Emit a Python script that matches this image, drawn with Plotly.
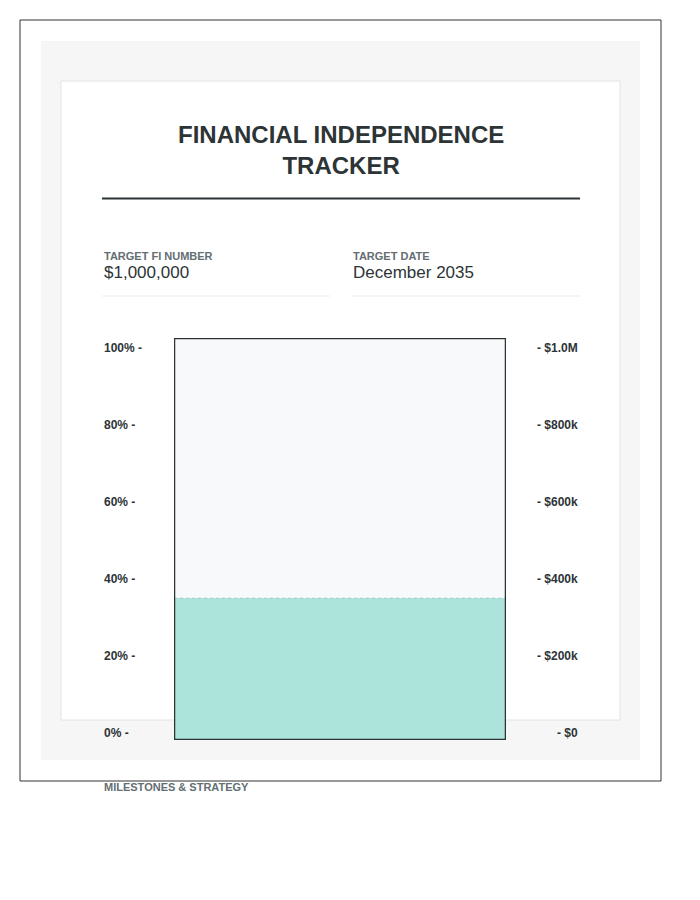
import plotly.graph_objects as go

pct_ticks = [0, 20, 40, 60, 80, 100]
pct_labels = ["0% -", "20% -", "40% -", "60% -", "80% -", "100% -"]
usd_labels = ["- $0", "- $200k", "- $400k", "- $600k", "- $800k", "- $1.0M"]
progress = [35]
target_number = "$1,000,000"
target_date = "December 2035"

W, H = 700, 900
OFF = 8
def px(x): return (x - OFF) / W
def py(y): return 1 - (y - OFF) / H

fig = go.Figure()
fig.add_trace(go.Bar(x=[0], y=[progress[0] + 1.82], base=-1.82, width=1,
                     marker=dict(color="#ace3da", line=dict(width=0)),
                     hoverinfo="skip", showlegend=False))

shapes = [
    dict(type="rect", xref="paper", yref="paper", x0=px(20), x1=px(661), y0=py(781), y1=py(20),
         line=dict(color="#333", width=1), fillcolor="white", layer="below"),
    dict(type="rect", xref="paper", yref="paper", x0=px(41), x1=px(640), y0=py(760), y1=py(41),
         line=dict(width=0), fillcolor="#f6f6f6", layer="below"),
    dict(type="rect", xref="paper", yref="paper", x0=px(61), x1=px(620), y0=py(720), y1=py(81),
         line=dict(color="#e4e4e4", width=1), fillcolor="white", layer="below"),
    dict(type="line", xref="paper", yref="paper", x0=px(102), x1=px(580), y0=py(198.5), y1=py(198.5),
         line=dict(color="#2d3436", width=2)),
    dict(type="line", xref="paper", yref="paper", x0=px(102), x1=px(330), y0=py(296), y1=py(296),
         line=dict(color="#ececec", width=1)),
    dict(type="line", xref="paper", yref="paper", x0=px(351), x1=px(580), y0=py(296), y1=py(296),
         line=dict(color="#ececec", width=1)),
    dict(type="rect", xref="x", yref="y", x0=-0.5, x1=0.5, y0=progress[0], y1=102.6,
         line=dict(width=0), fillcolor="#f8f9fa", layer="below"),
    dict(type="line", xref="x", yref="y", x0=-0.5, x1=0.5, y0=progress[0], y1=progress[0],
         line=dict(color="#9fcfc7", width=1, dash="dot")),
    dict(type="rect", xref="x", yref="y", x0=-0.5, x1=0.5, y0=-1.82, y1=102.6,
         line=dict(color="#2d3436", width=2.5), fillcolor="rgba(0,0,0,0)", layer="above"),
]

F = "Liberation Sans"
ann = [
    dict(text="<b>FINANCIAL INDEPENDENCE<br>TRACKER</b>", x=px(341), y=py(150), xref="paper", yref="paper",
         showarrow=False, font=dict(size=24, color="#2d3436", family=F), xanchor="center", yanchor="middle"),
    dict(text="<b>TARGET FI NUMBER</b>", x=px(102), y=py(256), xref="paper", yref="paper", showarrow=False,
         xanchor="left", yanchor="middle", font=dict(size=11, color="#636e72", family=F)),
    dict(text=target_number, x=px(102), y=py(272), xref="paper", yref="paper", showarrow=False,
         xanchor="left", yanchor="middle", font=dict(size=17, color="#2d3436", family=F)),
    dict(text="<b>TARGET DATE</b>", x=px(351), y=py(256), xref="paper", yref="paper", showarrow=False,
         xanchor="left", yanchor="middle", font=dict(size=11, color="#636e72", family=F)),
    dict(text=target_date, x=px(351), y=py(272), xref="paper", yref="paper", showarrow=False,
         xanchor="left", yanchor="middle", font=dict(size=17, color="#2d3436", family=F)),
    dict(text="<b>MILESTONES &amp; STRATEGY</b>", x=px(102), y=py(787), xref="paper", yref="paper", showarrow=False,
         xanchor="left", yanchor="middle", font=dict(size=11, color="#636e72", family=F)),
]
for v, l, r in zip(pct_ticks, pct_labels, usd_labels):
    ann.append(dict(text="<b>%s</b>" % l, x=px(102), y=v, xref="paper", yref="y", showarrow=False,
                    xanchor="left", yanchor="middle", font=dict(size=12, color="#2d3436", family=F)))
    ann.append(dict(text="<b>%s</b>" % r, x=px(580), y=v, xref="paper", yref="y", showarrow=False,
                    xanchor="right", yanchor="middle", font=dict(size=12, color="#2d3436", family=F)))

fig.update_layout(
    width=W, height=H, margin=dict(l=0, r=0, t=0, b=0),
    paper_bgcolor="white", plot_bgcolor="rgba(0,0,0,0)",
    xaxis=dict(domain=[px(174), px(506)], range=[-0.5, 0.5], visible=False, fixedrange=True),
    yaxis=dict(domain=[py(740), py(338)], range=[-1.82, 102.6], visible=False, fixedrange=True),
    shapes=shapes, annotations=ann, bargap=0,
)
fig.write_html("out.html")
